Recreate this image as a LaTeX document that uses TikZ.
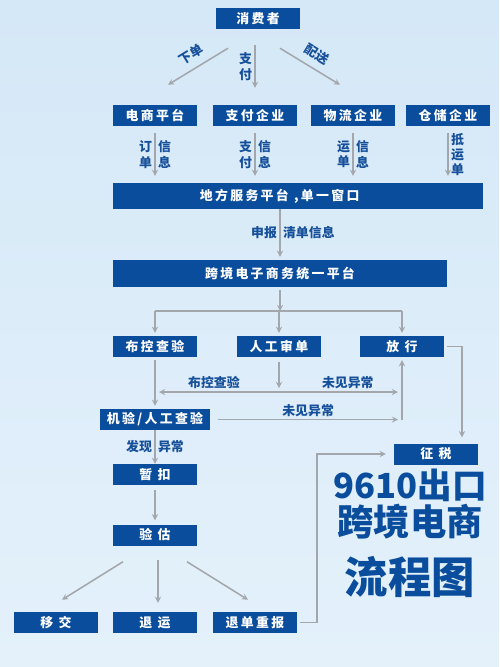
\documentclass[tikz,border=0pt]{standalone}
\usepackage{fontspec}
\setmainfont{Noto Sans CJK SC}
\newfontfamily\boxfont{Noto Sans CJK SC}[LetterSpace=18]
\usetikzlibrary{arrows,positioning}
\definecolor{boxblue}{HTML}{0A4D9C}
\definecolor{lblblue}{HTML}{17509A}
\definecolor{linegray}{HTML}{A3A7AB}
\definecolor{bgtop}{HTML}{D5E8F7}
\definecolor{bgbot}{HTML}{E4F1FB}

\begin{document}
\begin{tikzpicture}[x=0.03cm,y=-0.03cm]
\tikzstyle{blk}=[fill=boxblue, text=white, font=\boxfont\fontsize{11}{13}\selectfont\bfseries, minimum width=2.52cm, minimum height=0.63cm, inner sep=0pt]
\tikzstyle{lbl}=[text=lblblue, font=\fontsize{11}{13}\selectfont\bfseries, inner sep=2pt, align=center]
\tikzstyle{flow}=[draw=linegray, line width=1.3pt, ->, >=stealth]
\tikzstyle{line}=[draw=linegray, line width=1.3pt]
\tikzstyle{title}=[text=boxblue, font=\bfseries, inner sep=0pt]

% background
\fill[top color=bgtop, bottom color=bgbot] (0,0) rectangle (499,667);
\useasboundingbox (0,0) rectangle (499,667);

 \node[blk] (consumer) at (258,18.5) {消费者};
 \node[blk] (dianshang) at (155,115.5) {电商平台};
 \node[blk] (zhifu) at (255,115.5) {支付企业};
 \node[blk] (wuliu) at (353,115.5) {物流企业};
 \node[blk] (cangchu) at (448,115.5) {仓储企业};
 \node[blk, minimum width=11.1cm, minimum height=0.78cm] (difang) at (298,196) {\hspace*{-1.1cm}地方服务平台 ,单一窗口};
 \node[blk, minimum width=10.02cm, minimum height=0.81cm] (kuajing) at (280,273.5) {跨境电子商务统一平台};
 \node[blk] (bukong) at (155,346.5) {布控查验};
 \node[blk] (rengong) at (279,346.5) {人工审单};
 \node[blk] (fangxing) at (402,346.5) {放 行};
 \node[blk, minimum width=3.3cm] (jiyan) at (155,419.5) {机验/人工查验};
 \node[blk] (zankou) at (155,474.5) {暂 扣};
 \node[blk] (yangu) at (155,535) {验 估};
 \node[blk] (yijiao) at (56,622.5) {移 交};
 \node[blk] (tuiyun) at (155,622.5) {退 运};
 \node[blk] (tuidan) at (255,622.5) {退单重报};
 \node[blk] (zhengshui) at (436,454) {征 税};

 \node[title, font=\fontsize{29.5}{32}\selectfont\bfseries] (t1) at (410,485) {9610出口};
 \node[title, font=\fontsize{31}{33}\selectfont\bfseries] (t2) at (410,522) {跨境电商};
 \node[title, font=\fontsize{37}{39}\selectfont\bfseries] (t3) at (410,577) {流程图};

 \draw[flow] ([shift={(-30,19)}]consumer.south) -- node[lbl,sloped,above=4pt]{下单} ([shift={(13,-20)}]dianshang.north);
 \draw[flow] ([shift={(-3,16)}]consumer.south) -- node[lbl,left]{支\\付} ([shift={(0,-17)}]zhifu.north);
 \draw[flow] ([shift={(22,19)}]consumer.south) -- node[lbl,sloped,above=4pt]{配送} ([shift={(-13,-20)}]wuliu.north);

 \draw[flow] ([shift={(0,7)}]dianshang.south) -- node[lbl,left]{订\\单} node[lbl,right]{信\\息} ([shift={(0,-7)}]dianshang.south |- difang.north);
 \draw[flow] ([shift={(0,7)}]zhifu.south) -- node[lbl,left]{支\\付} node[lbl,right]{信\\息} ([shift={(0,-7)}]zhifu.south |- difang.north);
 \draw[flow] ([shift={(0,7)}]wuliu.south) -- node[lbl,left]{运\\单} node[lbl,right]{信\\息} ([shift={(0,-7)}]wuliu.south |- difang.north);
 \draw[flow] ([shift={(0,7)}]cangchu.south) -- node[lbl,right]{抵\\运\\单} ([shift={(0,-7)}]cangchu.south |- difang.north);

 \draw[flow] (difang.south -| kuajing.north) -- node[lbl,left]{申报} node[lbl,right]{清单信息} ([shift={(0,-3)}]kuajing.north);

 \coordinate (split) at (280,311);
 \draw[flow] ([shift={(0,3)}]kuajing.south) -- (split);
 \draw[line] (bukong.north |- split) -- (fangxing.north |- split);
 \foreach \n in {bukong,rengong,fangxing}
   \draw[flow] (\n.north |- split) -- ([shift={(0,-3)}]\n.north);

 \coordinate (cross) at (0,392);
 \draw[flow] ([shift={(0,3)}]bukong.south) -- ([shift={(0,-3)}]jiyan.north);
 \draw[flow, <->] ([shift={(4,0)}]bukong.south |- cross) -- node[lbl,above,pos=0.23]{布控查验} node[lbl,above,pos=0.79]{未见异常} ([shift={(-4,0)}]fangxing.south |- cross);
 \draw[flow] ([shift={(0,5)}]rengong.south) -- ([shift={(0,-4)}]rengong.south |- cross);
 \draw[flow] ([shift={(8,0)}]jiyan.east) -- node[lbl,above]{未见异常} ([shift={(-4,0)}]jiyan.east -| fangxing.south);
 \draw[flow] (jiyan.east -| fangxing.south) -- ([shift={(0,3)}]fangxing.south);
 \draw[flow] ([shift={(3,0)}]fangxing.east) -| ([shift={(26,-6)}]zhengshui.north);

 \draw[flow] (jiyan.south) -- node[lbl,left]{发现} node[lbl,right]{异常} (zankou.north);
 \draw[flow] ([shift={(0,5)}]zankou.south) -- ([shift={(0,-4)}]yangu.north);

 \draw[flow] ([shift={(-32,16)}]yangu.south) -- ([shift={(6,-12)}]yijiao.north);
 \draw[flow] ([shift={(3,14)}]yangu.south) -- ([shift={(3,-9)}]tuiyun.north);
 \draw[flow] ([shift={(32,16)}]yangu.south) -- ([shift={(-7,-12)}]tuidan.north);
 \draw[flow] ([shift={(3,0)}]tuidan.east) -| ([shift={(-77,0)}]zhengshui.west) -- ([shift={(-8,0)}]zhengshui.west);
\end{tikzpicture}
\end{document}
